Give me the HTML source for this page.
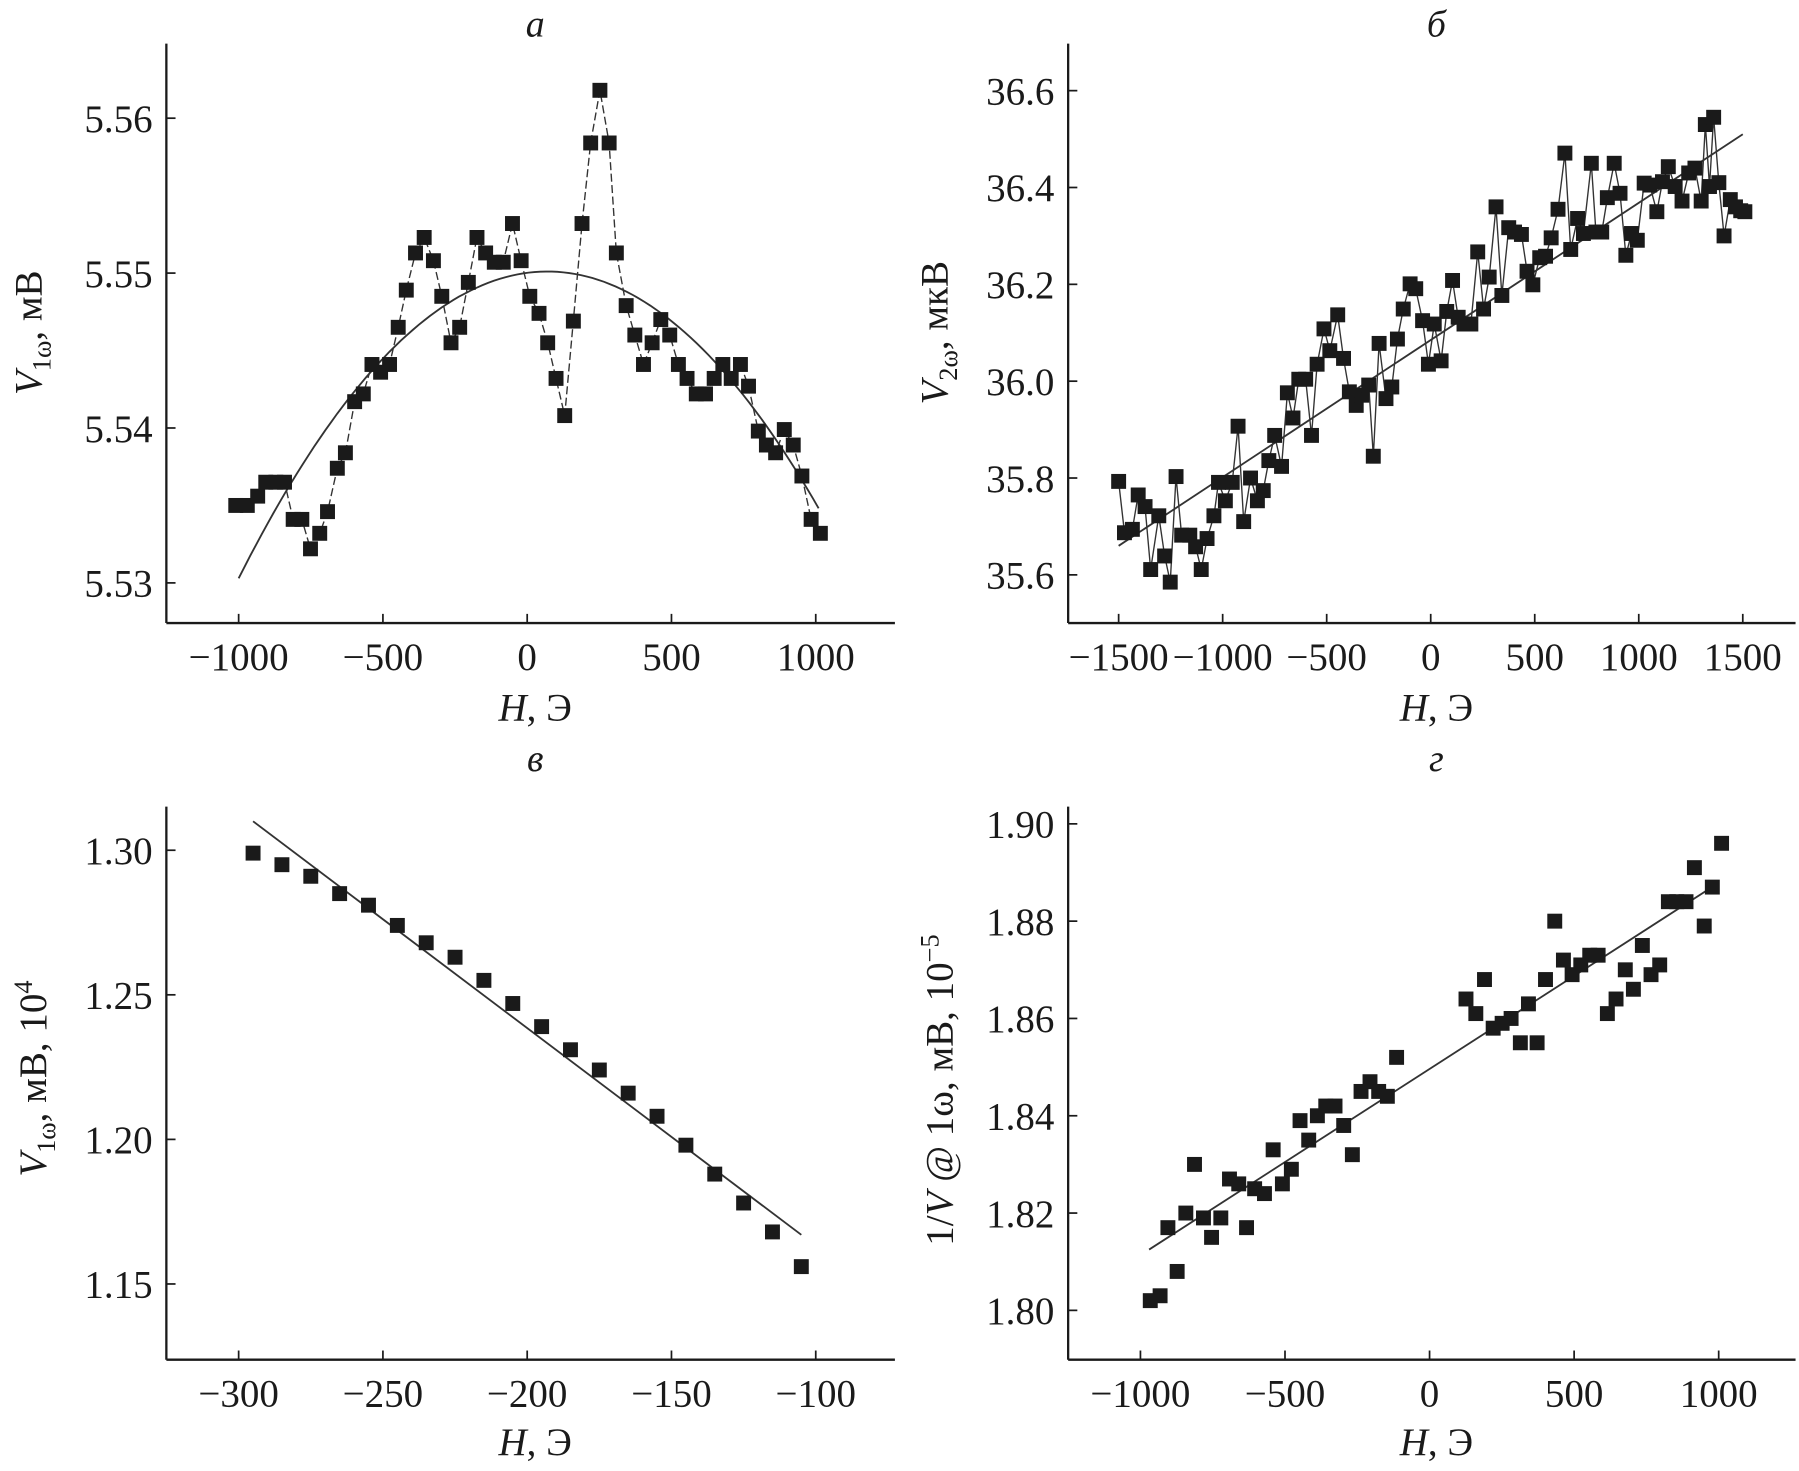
<!DOCTYPE html>
<html><head><meta charset="utf-8"><style>
html,body{margin:0;padding:0;background:#fff}
svg{display:block}
text{font-family:"Liberation Serif",serif;fill:#1a1a1a}
</style></head><body>
<svg id="fig" xmlns="http://www.w3.org/2000/svg" width="1799" height="1471" viewBox="0 0 1568 1282" preserveAspectRatio="none"></svg>
<script>
// Panel a data
const aX = [-1010,-970,-934,-906,-871,-841,-811,-781,-751,-719,-692,-658,-630,-598,-568,-538,-508,-477,-447,-419,-387,-357,-325,-296,-264,-234,-204,-174,-144,-114,-83,-51,-21,9,41,71,100,130,160,190,220,252,284,309,343,373,403,433,463,494,524,554,586,618,648,678,707,739,767,801,829,861,891,922,952,984,1016];
const aY = [5.5350,5.5350,5.5356,5.5365,5.5365,5.5365,5.5341,5.5341,5.5322,5.5332,5.5346,5.5374,5.5384,5.5417,5.5422,5.5441,5.5436,5.5441,5.5465,5.5489,5.5513,5.5523,5.5508,5.5485,5.5455,5.5465,5.5494,5.5523,5.5513,5.5507,5.5507,5.5532,5.5508,5.5485,5.5474,5.5455,5.5432,5.5408,5.5469,5.5532,5.5584,5.5618,5.5584,5.5513,5.5479,5.5460,5.5441,5.5455,5.5470,5.5460,5.5441,5.5432,5.5422,5.5422,5.5432,5.5441,5.5432,5.5441,5.5427,5.5398,5.5389,5.5384,5.5399,5.5389,5.5369,5.5341,5.5332];
const aFit = {peakX:70, peakY:5.5501, k:1.73e-8, from:-1000, to:1010};
const aXTicks = [-1000,-500,0,500,1000];
const aYTicks = [5.53,5.54,5.55,5.56];
// Panel b data
const bX = [-1500,-1472,-1434,-1406,-1373,-1346,-1307,-1279,-1252,-1224,-1197,-1158,-1130,-1103,-1075,-1042,-1020,-987,-954,-926,-899,-866,-833,-805,-778,-750,-717,-689,-662,-634,-601,-573,-546,-513,-485,-447,-419,-391,-358,-331,-298,-276,-248,-215,-187,-160,-132,-99,-72,-39,-11,17,50,77,105,132,160,193,226,254,281,314,342,375,403,436,463,491,524,552,579,612,645,673,706,734,772,794,822,849,882,910,938,965,993,1026,1053,1087,1114,1142,1175,1208,1240,1270,1300,1320,1340,1360,1385,1410,1440,1465,1490,1510];
const bY = [35.793,35.687,35.694,35.765,35.741,35.611,35.722,35.639,35.585,35.803,35.682,35.682,35.658,35.611,35.675,35.722,35.791,35.753,35.791,35.907,35.710,35.800,35.753,35.774,35.836,35.888,35.824,35.976,35.924,36.004,36.004,35.888,36.035,36.108,36.063,36.137,36.047,35.978,35.950,35.971,35.992,35.845,36.078,35.964,35.988,36.087,36.149,36.201,36.191,36.125,36.035,36.118,36.042,36.144,36.208,36.132,36.118,36.118,36.267,36.149,36.215,36.360,36.177,36.317,36.308,36.303,36.227,36.199,36.255,36.258,36.296,36.355,36.471,36.272,36.336,36.305,36.450,36.308,36.308,36.379,36.450,36.388,36.260,36.305,36.291,36.409,36.405,36.350,36.412,36.443,36.402,36.372,36.430,36.440,36.372,36.530,36.402,36.545,36.410,36.300,36.375,36.360,36.352,36.350];
const bFit = [[-1500,35.66],[1500,36.51]];
const bXTicks = [-1500,-1000,-500,0,500,1000,1500];
const bYTicks = [35.6,35.8,36.0,36.2,36.4,36.6];
// Panel c data
const cX = [-295,-285,-275,-265,-255,-245,-235,-225,-215,-205,-195,-185,-175,-165,-155,-145,-135,-125,-115,-105];
const cY = [1.299,1.295,1.291,1.285,1.281,1.274,1.268,1.263,1.255,1.247,1.239,1.231,1.224,1.216,1.208,1.198,1.188,1.178,1.168,1.156];
const cFit = [[-295,1.310],[-105,1.167]];
const cXTicks = [-300,-250,-200,-150,-100];
const cYTicks = [1.15,1.20,1.25,1.30];
// Panel d data
const dX = [-966,-932,-905,-873,-843,-813,-782,-754,-722,-692,-660,-633,-605,-571,-541,-509,-478,-448,-418,-388,-359,-327,-297,-267,-237,-206,-176,-146,-114,126,160,190,220,251,282,314,342,372,401,433,463,493,523,554,583,615,645,677,705,736,766,796,826,855,887,916,950,978,1010];
const dY = [1.802,1.803,1.817,1.808,1.820,1.830,1.819,1.815,1.819,1.827,1.826,1.817,1.825,1.824,1.833,1.826,1.829,1.839,1.835,1.840,1.842,1.842,1.838,1.832,1.845,1.847,1.845,1.844,1.852,1.864,1.861,1.868,1.858,1.859,1.860,1.855,1.863,1.855,1.868,1.880,1.872,1.869,1.871,1.873,1.873,1.861,1.864,1.870,1.866,1.875,1.869,1.871,1.884,1.884,1.884,1.891,1.879,1.887,1.896];
const dFit = [[-970,1.8125],[990,1.8875]];
const dXTicks = [-1000,-500,0,500,1000];
const dYTicks = [1.80,1.82,1.84,1.86,1.88,1.90];

const NS = "http://www.w3.org/2000/svg";
const svg = document.getElementById('fig');
function mk(tag, attrs, parent){const e=document.createElementNS(NS,tag);for(const k in attrs)e.setAttribute(k,attrs[k]);(parent||svg).appendChild(e);return e;}
function lin(d0,d1,p0,p1){return v=>p0+(v-d0)*(p1-p0)/(d1-d0);}

function panel(cfg){
  const g = mk('g',{});
  
  
  const sx = lin(cfg.xd[0],cfg.xd[1],cfg.xp[0],cfg.xp[1]);
  const sy = lin(cfg.yd[0],cfg.yd[1],cfg.yp[0],cfg.yp[1]);
  const b = cfg.box;
  const ya = mk('line',{x1:b[0],y1:b[1],x2:b[0],y2:b[3],stroke:'#1a1a1a','stroke-width':2},g);
  
  
  const xa = mk('line',{x1:b[0],y1:b[3],x2:b[2],y2:b[3],stroke:'#1a1a1a','stroke-width':2},g);
  
  
  cfg.xt.forEach(t=>{
    const x=sx(t);
    mk('line',{x1:x,y1:b[3],x2:x,y2:b[3]-8,stroke:'#1a1a1a','stroke-width':1.5},g);
    const tx=mk('text',{x:x,y:b[3]+41,'text-anchor':'middle','font-size':34},g);
    
    
    tx.textContent=(t<0?'\u2212'+Math.abs(t):String(t));
  });
  cfg.yt.forEach(t=>{
    const y=sy(t);
    mk('line',{x1:b[0],y1:y,x2:b[0]+8,y2:y,stroke:'#1a1a1a','stroke-width':1.5},g);
    const tx=mk('text',{x:b[0]-12,y:y+12,'text-anchor':'end','font-size':34},g);
    
    
    tx.textContent=t.toFixed(cfg.yDec);
  });
  let fp='';
  if(cfg.fitFn){
    for(let i=0;i<=100;i++){const x=cfg.fitRange[0]+(cfg.fitRange[1]-cfg.fitRange[0])*i/100;fp+=(i?'L':'M')+sx(x).toFixed(1)+','+sy(cfg.fitFn(x)).toFixed(1);}
  } else {
    fp='M'+sx(cfg.fit[0][0])+','+sy(cfg.fit[0][1])+'L'+sx(cfg.fit[1][0])+','+sy(cfg.fit[1][1]);
  }
  const fl=mk('path',{d:fp,fill:'none',stroke:'#333','stroke-width':1.6},g);
  
  
  if(cfg.connect){
    let p='';cfg.x.forEach((v,i)=>{p+=(i?'L':'M')+sx(v).toFixed(1)+','+sy(cfg.y[i]).toFixed(1);});
    const cl=mk('path',{d:p,fill:'none',stroke:'#333','stroke-width':1.2,'stroke-dasharray':cfg.dash||'none'},g);
    
    
  }
  const s=13;
  cfg.x.forEach((v,i)=>{
    const r=mk('rect',{x:sx(v)-s/2,y:sy(cfg.y[i])-s/2,width:s,height:s,fill:'#1a1a1a'},g);
    
    
  });
  const tt=mk('text',{x:(b[0]+b[2])/2+4,y:cfg.titleY,'text-anchor':'middle','font-size':33,'font-style':'italic'},g);
  
  
  tt.textContent=cfg.title;
  const xl=mk('text',{x:(b[0]+b[2])/2+4,y:cfg.xlabY,'text-anchor':'middle','font-size':34},g);
  
  
  xl.innerHTML='<tspan font-style="italic">H</tspan>, Э';
  const yl=mk('text',{x:0,y:0,'text-anchor':'middle','font-size':34,transform:'translate('+cfg.ylab[0]+','+cfg.ylab[1]+') rotate(-90)'},g);
  
  
  yl.innerHTML=cfg.ylabHtml;
}

panel({name:'panel-a',box:[145,38,780,543],xd:[-1000,1000],xp:[208,711],yd:[5.53,5.56],yp:[508,103],
  xt:aXTicks,yt:aYTicks,yDec:2,x:aX,y:aY,connect:true,dash:'7,3',
  fitFn:x=>aFit.peakY-aFit.k*(x-aFit.peakX)*(x-aFit.peakX),fitRange:[aFit.from,aFit.to],
  title:'а',titleY:32,xlabY:628,ylab:[36,290],
  ylabHtml:'<tspan font-style="italic">V</tspan><tspan font-size="23" dy="8">1ω</tspan><tspan dy="-8">, мВ</tspan>'});
panel({name:'panel-b',box:[931,38,1565,543],xd:[-1500,1500],xp:[975,1519],yd:[35.6,36.6],yp:[501,79],
  xt:bXTicks,yt:bYTicks,yDec:1,x:bX,y:bY,connect:true,fit:bFit,
  title:'б',titleY:32,xlabY:628,ylab:[826,290],
  ylabHtml:'<tspan font-style="italic">V</tspan><tspan font-size="23" dy="8">2ω</tspan><tspan dy="-8">, мкВ</tspan>'});
panel({name:'panel-c',box:[145,703,780,1185],xd:[-300,-100],xp:[208,711],yd:[1.15,1.30],yp:[1119,741],
  xt:cXTicks,yt:cYTicks,yDec:2,x:cX,y:cY,connect:false,fit:cFit,
  title:'в',titleY:672,xlabY:1268,ylab:[40,940],
  ylabHtml:'<tspan font-style="italic">V</tspan><tspan font-size="23" dy="8">1ω</tspan><tspan dy="-8">, мВ, 10</tspan><tspan font-size="23" dy="-12">4</tspan>'});
panel({name:'panel-d',box:[931,703,1565,1185],xd:[-1000,1000],xp:[994,1498],yd:[1.80,1.90],yp:[1142,718],
  xt:dXTicks,yt:dYTicks,yDec:2,x:dX,y:dY,connect:false,fit:dFit,
  title:'г',titleY:672,xlabY:1268,ylab:[830,950],
  ylabHtml:'1/<tspan font-style="italic">V</tspan> @ 1ω, мВ, 10<tspan font-size="23" dy="-12">−5</tspan>'});
</script>
</body></html>
